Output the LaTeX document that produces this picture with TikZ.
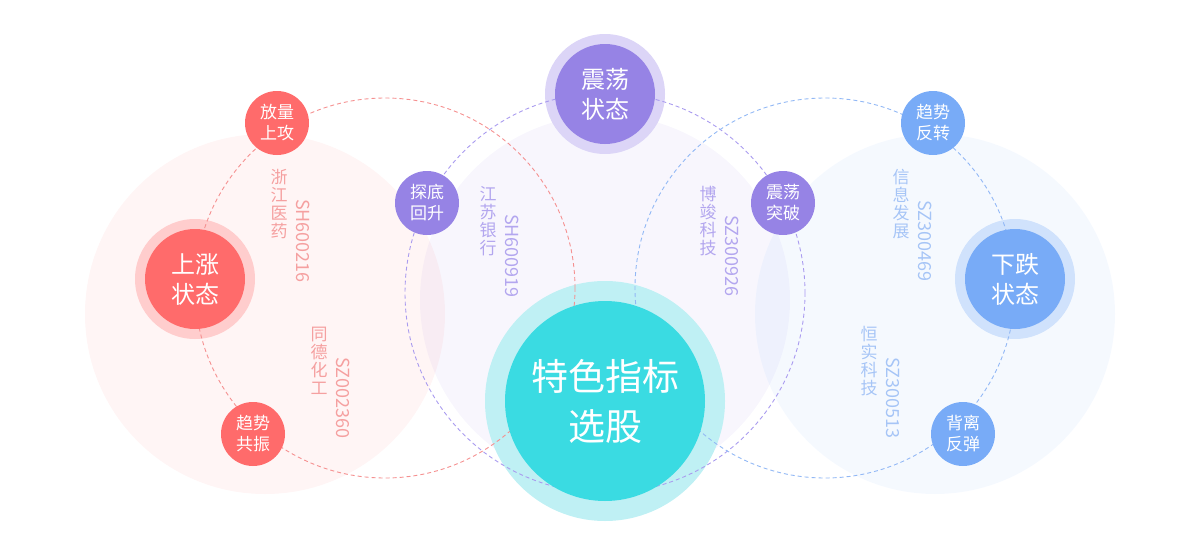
\documentclass[tikz,border=0pt]{standalone}
\usepackage{fontspec}
\setmainfont{Noto Sans CJK SC}
\definecolor{redM}{HTML}{FF6B6B}
\definecolor{redR}{HTML}{FFCDCD}
\definecolor{redT}{HTML}{F5A0A0}
\definecolor{redD}{HTML}{F59090}
\definecolor{purM}{HTML}{9683E5}
\definecolor{purR}{HTML}{DCD5F7}
\definecolor{purT}{HTML}{B3A6EF}
\definecolor{purD}{HTML}{A99BEF}
\definecolor{bluM}{HTML}{78ABF7}
\definecolor{bluR}{HTML}{D0E2FC}
\definecolor{bluT}{HTML}{A6C5F6}
\definecolor{bluD}{HTML}{92B8F5}
\definecolor{cyaM}{HTML}{3ADBE2}
\definecolor{cyaR}{HTML}{BFF0F4}
\begin{document}
\begin{tikzpicture}[x=1pt,y=-1pt,
  pale/.style={circle,inner sep=0pt,minimum size=#1,fill opacity=0.07},
  ring/.style={circle,inner sep=0pt,minimum size=120pt},
  state/.style={circle,inner sep=0pt,minimum size=100pt,text=white,align=center,font=\fontsize{24}{30}\selectfont},
  small/.style={circle,inner sep=0pt,minimum size=64pt,text=white,align=center,font=\fontsize{17}{21}\selectfont},
  dashc/.style={line width=0.9pt,dash pattern=on 4pt off 3pt},
  vlab/.style={align=center,inner sep=0pt,font=\fontsize{17}{18}\selectfont},
  clab/.style={rotate=-90,inner sep=0pt,font=\fontsize{18}{18}\selectfont}]
\useasboundingbox (0,0) rectangle (1200,554);
% pale background circles
\node[pale=360pt,fill=redM] (paleL) at (265,314) {};
\node[pale=370pt,fill=purM] (paleM) at (605,300) {};
\node[pale=360pt,fill=bluM] (paleR) at (935,314) {};
% rings
\node[ring,fill=redR] (upring) at (195,279) {};
\node[ring,fill=purR] (midring) at (605,94) {};
\node[ring,fill=bluR] (dnring) at (1015,279) {};
\node[circle,inner sep=0pt,minimum size=240pt,fill=cyaR] (cring) at (605,401) {};
% dashed circles
\coordinate (cR) at (385,288);
\coordinate (cP) at (605,293);
\coordinate (cB) at (825,288);
\draw[dashc,redD] (cR) circle[radius=190pt];
\draw[dashc,purD] (cP) circle[radius=200pt];
\draw[dashc,bluD] (cB) circle[radius=190pt];
% main nodes
\node[circle,inner sep=0pt,minimum size=200pt,fill=cyaM,text=white,align=center,font=\fontsize{37}{50}\selectfont] (core) at (605,401) {特色指标\\选股};
\node[state,fill=redM] (up) at (195,279) {上涨\\状态};
\node[state,fill=purM] (mid) at (605,94) {震荡\\状态};
\node[state,fill=bluM] (dn) at (1015,279) {下跌\\状态};
% small nodes
\node[small,fill=redM] (s1) at (277,123) {放量\\上攻};
\node[small,fill=redM] (s2) at (253,434) {趋势\\共振};
\node[small,fill=purM] (s3) at (427,203) {探底\\回升};
\node[small,fill=purM] (s4) at (783,203) {震荡\\突破};
\node[small,fill=bluM] (s5) at (933,123) {趋势\\反转};
\node[small,fill=bluM] (s6) at (963,434) {背离\\反弹};
% labels
\node[vlab,text=redT] (l1) at (279,204) {浙\\江\\医\\药};
\node[clab,text=redT] (k1) at (303,241) {SH600216};
\node[vlab,text=redT] (l2) at (319,361) {同\\德\\化\\工};
\node[clab,text=redT] (k2) at (343,398) {SZ002360};
\node[vlab,text=purT] (l3) at (488,221) {江\\苏\\银\\行};
\node[clab,text=purT] (k3) at (512,256) {SH600919};
\node[vlab,text=purT] (l4) at (708,221) {博\\竣\\科\\技};
\node[clab,text=purT] (k4) at (732,256) {SZ300926};
\node[vlab,text=bluT] (l5) at (901,204) {信\\息\\发\\展};
\node[clab,text=bluT] (k5) at (925,241) {SZ300469};
\node[vlab,text=bluT] (l6) at (869,361) {恒\\实\\科\\技};
\node[clab,text=bluT] (k6) at (893,398) {SZ300513};
\end{tikzpicture}
\end{document}
